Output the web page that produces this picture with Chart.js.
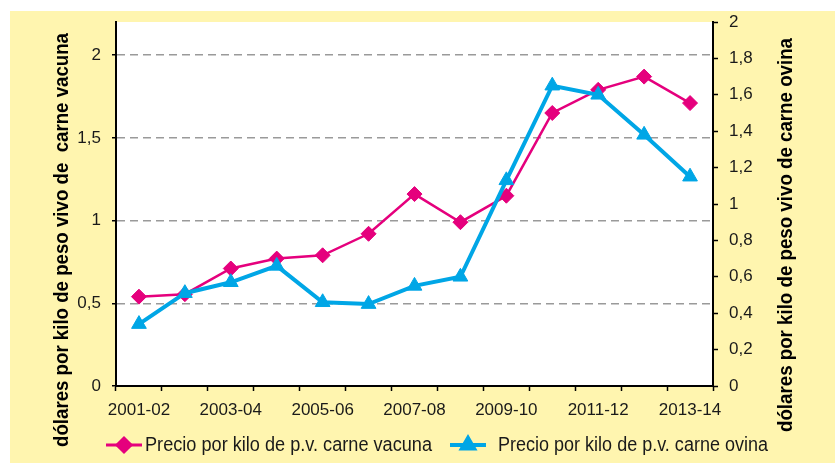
<!DOCTYPE html>
<html>
<head>
<meta charset="utf-8">
<script src="https://cdn.jsdelivr.net/npm/chart.js@4"></script>
<style>
  html, body { margin: 0; padding: 0; background: #ffffff; }
  #wrap { width: 835px; height: 465px; position: relative; }
</style>
</head>
<body>
<div id="wrap"><canvas id="c" width="835" height="465"></canvas></div>
<script>
const categories = ['2001-02','2002-03','2003-04','2004-05','2005-06','2006-07','2007-08','2008-09','2009-10','2010-11','2011-12','2012-13','2013-14'];
const shownXLabels = ['2001-02','2003-04','2005-06','2007-08','2009-10','2011-12','2013-14'];
const vacuna = [0.54,0.555,0.71,0.77,0.79,0.92,1.16,0.99,1.15,1.65,1.79,1.87,1.71];
const ovina = [0.34,0.51,0.57,0.66,0.46,0.45,0.55,0.60,1.13,1.65,1.60,1.38,1.15];
const seriesNames = ['Precio por kilo de p.v. carne vacuna', 'Precio por kilo de p.v. carne ovina'];
const leftTitle = 'dólares por kilo de peso vivo de  carne vacuna';
const rightTitle = 'dólares por kilo de peso vivo de carne ovina';

const PINK = '#E5007D';
const BLUE = '#00A6E6';
const YELLOW = '#FFF5AF';
const SANS = '"Liberation Sans", Arial, sans-serif';

function fmt(v) { return (Math.round(v * 10) / 10).toString().replace('.', ','); }

// draw text compressed horizontally to a given width (condensed look)
function fitText(ctx, text, x, y, width, align) {
  const w = ctx.measureText(text).width;
  const s = Math.min(1, width / w);
  ctx.save();
  ctx.translate(x, y);
  ctx.scale(s, 1);
  ctx.textAlign = align;
  ctx.fillText(text, 0, 0);
  ctx.restore();
}

const bgPlugin = {
  id: 'bg',
  beforeDraw(chart) {
    const ctx = chart.ctx, a = chart.chartArea;
    ctx.save();
    ctx.fillStyle = '#ffffff';
    ctx.fillRect(0, 0, chart.width, chart.height);
    ctx.fillStyle = YELLOW;
    ctx.fillRect(10, 11, chart.width - 10, chart.height - 13);
    ctx.fillStyle = '#ffffff';
    ctx.fillRect(a.left, a.top, a.right - a.left, a.bottom - a.top);
    ctx.restore();
  },
  afterDraw(chart) {
    const ctx = chart.ctx;
    ctx.save();
    // axis titles
    ctx.fillStyle = '#000';
    ctx.font = 'bold 20px ' + SANS;
    ctx.textBaseline = 'middle';
    ctx.save();
    ctx.translate(62, 240);
    ctx.rotate(-Math.PI / 2);
    fitText(ctx, leftTitle, 0, 0, 414, 'center');
    ctx.restore();
    ctx.save();
    ctx.translate(786, 235);
    ctx.rotate(-Math.PI / 2);
    fitText(ctx, rightTitle, 0, 0, 394, 'center');
    ctx.restore();
    // legend
    const items = [
      { x0: 106, x1: 142, tx: 145, tw: 287, color: PINK, style: 'rectRot', r: 7, lw: 3, name: seriesNames[0] },
      { x0: 450, x1: 486, tx: 498, tw: 270, color: BLUE, style: 'triangle', r: 7, lw: 4, name: seriesNames[1] }
    ];
    const ly = 445;
    items.forEach(it => {
      ctx.strokeStyle = it.color;
      ctx.lineWidth = it.lw;
      ctx.beginPath();
      ctx.moveTo(it.x0, ly);
      ctx.lineTo(it.x1, ly);
      ctx.stroke();
      ctx.fillStyle = it.color;
      Chart.helpers.drawPoint(ctx, { pointStyle: it.style, radius: it.r, borderWidth: 1, rotation: 0 }, (it.x0 + it.x1) / 2, ly);
      ctx.fill();
      ctx.fillStyle = '#1a1a1a';
      ctx.font = '20px ' + SANS;
      ctx.textBaseline = 'middle';
      fitText(ctx, it.name, it.tx, ly, it.tw, 'left');
    });
    ctx.restore();
  }
};

new Chart(document.getElementById('c'), {
  type: 'line',
  data: {
    labels: categories,
    datasets: [
      {
        label: seriesNames[0],
        data: vacuna,
        yAxisID: 'y',
        borderColor: PINK,
        backgroundColor: PINK,
        borderWidth: 2.5,
        pointStyle: 'rectRot',
        pointRadius: 7.5,
        pointBorderWidth: 1,
        pointBackgroundColor: PINK,
        pointBorderColor: PINK,
        tension: 0,
        order: 1
      },
      {
        label: seriesNames[1],
        data: ovina,
        yAxisID: 'y1',
        borderColor: BLUE,
        backgroundColor: BLUE,
        borderWidth: 4,
        pointStyle: 'triangle',
        pointRadius: 8.5,
        pointBorderWidth: 1,
        pointBackgroundColor: BLUE,
        pointBorderColor: BLUE,
        tension: 0,
        order: 0
      }
    ]
  },
  options: {
    responsive: false,
    animation: false,
    events: [],
    layout: { padding: { top: 22, left: 0, right: 0, bottom: 0 } },
    plugins: { legend: { display: false }, tooltip: { enabled: false }, title: { display: false } },
    scales: {
      x: {
        type: 'category',
        offset: true,
        grid: { offset: true, drawOnChartArea: false, drawTicks: true, tickLength: 5, tickColor: '#000', tickWidth: 1.5 },
        border: { color: '#000', width: 2 },
        ticks: {
          autoSkip: false, maxRotation: 0, minRotation: 0, padding: 9,
          color: '#1a1a1a', font: { family: SANS, size: 17 },
          callback: function (value, index) {
            const l = categories[index];
            return shownXLabels.includes(l) ? l : '';
          }
        },
        afterFit(scale) { scale.height = 79; }
      },
      y: {
        position: 'left',
        min: 0, max: 2.2,
        afterBuildTicks(scale) { scale.ticks = scale.ticks.filter(t => t.value <= 2.0001); },
        grid: {
          color: ctx => (ctx.tick && ctx.tick.value === 0) ? 'rgba(0,0,0,0)' : '#9a9a9a',
          lineWidth: 1.5,
          drawTicks: true, tickLength: 4, tickColor: '#000', tickWidth: 1.5, tickBorderDash: []
        },
        border: { color: '#000', width: 2, dash: [8, 5] },
        ticks: {
          stepSize: 0.5, padding: 11, color: '#1a1a1a',
          font: { family: SANS, size: 17 },
          callback: v => fmt(v)
        },
        afterFit(scale) { scale.width = 116; }
      },
      y1: {
        position: 'right',
        min: 0, max: 2,
        grid: { drawOnChartArea: false, drawTicks: true, tickLength: 5, tickColor: '#000', tickWidth: 1.5 },
        border: { color: '#000', width: 2 },
        ticks: {
          stepSize: 0.2, padding: 11, color: '#1a1a1a',
          font: { family: SANS, size: 17 },
          callback: v => fmt(v)
        },
        afterFit(scale) { scale.width = 122; }
      }
    }
  },
  plugins: [bgPlugin]
});
</script>
</body>
</html>
